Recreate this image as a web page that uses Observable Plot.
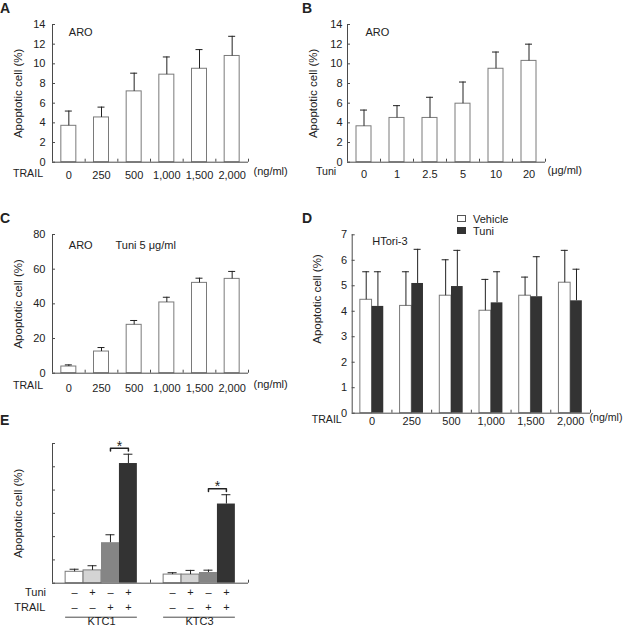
<!DOCTYPE html>
<html>
<head>
<meta charset="utf-8">
<script src="https://cdn.jsdelivr.net/npm/d3@7"></script>
<script src="https://cdn.jsdelivr.net/npm/@observablehq/plot@0.6"></script>
<style>
  body { margin: 0; background: #fff; }
  #fig { position: relative; width: 623px; height: 631px; overflow: hidden;
         font-family: "Liberation Sans", Arial, Helvetica, sans-serif; color: #222; background: #fff; }
  .panel { position: absolute; }
  .letter { position: absolute; font-weight: bold; font-size: 14px; line-height: 14px; }
  .leg { position: absolute; font-size: 11px; line-height: 12px; z-index: 5; }
  .sw { position: absolute; width: 9px; height: 7px; box-sizing: border-box; z-index: 5; }
</style>
</head>
<body>
<div id="fig">
  <div class="letter" style="left:0px;top:1px">A</div>
  <div class="letter" style="left:302px;top:1px">B</div>
  <div class="letter" style="left:0px;top:211px">C</div>
  <div class="letter" style="left:302px;top:211px">D</div>
  <div class="letter" style="left:0px;top:413px">E</div>
  <div class="sw" style="left:457px;top:215px;background:#fff;border:1px solid #555"></div>
  <div class="leg" style="left:473px;top:213px">Vehicle</div>
  <div class="sw" style="left:457px;top:227px;background:#333;border:1px solid #333"></div>
  <div class="leg" style="left:473px;top:225px">Tuni</div>
</div>
<script>
// ---------- data ----------
const trailDoses = ["0", "250", "500", "1,000", "1,500", "2,000"];
const tuniDoses = ["0", "1", "2.5", "5", "10", "20"];

const aroTrail = [3.7, 4.55, 7.2, 8.9, 9.5, 10.8];
const aroTrailErr = [1.5, 1.05, 1.85, 1.8, 1.95, 2.0];

const aroTuni = [3.65, 4.5, 4.5, 5.95, 9.5, 10.3];
const aroTuniErr = [1.65, 1.25, 2.1, 2.2, 1.7, 1.7];

const aroCombo = [3.85, 12.5, 27.9, 40.8, 52.1, 54.4];
const aroComboErr = [0.95, 2.3, 2.5, 3.0, 2.7, 4.3];

const htoriVehicle = [4.45, 4.21, 4.61, 4.02, 4.61, 5.12];
const htoriVehicleErr = [1.1, 1.34, 1.41, 1.23, 0.73, 1.27];
const htoriTuni = [4.19, 5.09, 4.97, 4.33, 4.57, 4.41];
const htoriTuniErr = [1.36, 1.34, 1.42, 1.22, 1.57, 1.24];

const ktcLines = ["KTC1", "KTC3"];
const ktcTuni = ["–", "+", "–", "+"];
const ktcTrail = ["–", "–", "+", "+"];
const ktc1Vals = [0.49, 0.55, 1.74, 5.14];
const ktc1Err = [0.11, 0.2, 0.34, 0.4];
const ktc3Vals = [0.37, 0.37, 0.46, 3.4];
const ktc3Err = [0.08, 0.18, 0.1, 0.4];

// ---------- styling ----------
const INK = "#222", AXIS = "#4a4a4a", EDGE = "#7a7a7a";
const FONT = "'Liberation Sans', Arial, Helvetica, sans-serif";
const STYLE = {fontFamily: FONT, fontSize: "11px", color: INK, background: "transparent", overflow: "visible"};
const YLABEL = "Apoptotic cell (%)";
const fig = document.getElementById("fig");

function place(svg, left, top) {
  const d = document.createElement("div");
  d.className = "panel";
  d.style.left = left + "px";
  d.style.top = top + "px";
  d.appendChild(svg);
  fig.appendChild(d);
}

function yLabel(dx, dy) {
  return Plot.text([YLABEL], {frameAnchor: "left", rotate: -90, dx, dy, textAnchor: "middle", lineAnchor: "middle", fontSize: 11.5, fill: INK});
}

function simplePanel(c) {
  const fw = c.W - c.ml - c.mr, fh = c.H - c.mt - c.mb, bw = fw / c.cats.length, barW = 15;
  const rows = c.cats.map((k, i) => ({k, v: c.vals[i], top: c.vals[i] + c.errs[i]}));
  const yTicks = d3.range(0, c.yMax + c.yStep / 2, c.yStep);
  const notes = c.notes.map(n => Plot.text([n.text], {frameAnchor: "top-left", dx: n.dx, dy: n.dy, textAnchor: "start", fill: INK}));
  return Plot.plot({
    width: c.W, height: c.H, marginLeft: c.ml, marginRight: c.mr, marginTop: c.mt, marginBottom: c.mb,
    style: STYLE,
    x: {type: "band", domain: c.cats, padding: 0, round: false},
    y: {domain: [0, c.yMax]},
    marks: [
      Plot.barY(rows, {x: "k", y: "v", fill: "white", stroke: EDGE, insetLeft: (bw - barW) / 2, insetRight: (bw - barW) / 2}),
      Plot.ruleX(rows, {x: "k", y1: "v", y2: "top", stroke: INK}),
      Plot.tickY(rows, {x: "k", y: "top", stroke: INK, insetLeft: bw / 2 - 3.5, insetRight: bw / 2 - 3.5}),
      Plot.ruleY([0], {stroke: AXIS}),
      Plot.ruleX([c.cats[0]], {dx: -bw / 2, stroke: AXIS}),
      Plot.tickY(yTicks, {stroke: AXIS, insetRight: fw - 3}),
      Plot.tickX(c.cats, {dx: bw / 2, stroke: AXIS, insetTop: fh - 3}),
      Plot.axisY({ticks: yTicks, tickFormat: d => String(d), tickSize: 0, tickPadding: c.ytPad, label: null, fill: INK}),
      Plot.axisX({tickSize: 0, tickPadding: c.xtPad, label: null, fill: INK}),
      Plot.text([c.lead], {frameAnchor: "bottom-left", dx: c.leadDx, dy: c.xtPad + 5.5, textAnchor: "start", fontSize: 10.6, fill: INK}),
      Plot.text([c.unit], {frameAnchor: "bottom-right", dx: c.unitDx, dy: c.xtPad + 4, textAnchor: "start", fill: INK}),
      yLabel(-34, c.labelDy || 0),
      ...notes
    ]
  });
}

// Panel A
place(simplePanel({
  cats: trailDoses, vals: aroTrail, errs: aroTrailErr, yMax: 14, yStep: 2,
  W: 310, H: 200, ml: 52, mr: 62, mt: 24, mb: 38.3, ytPad: 7, xtPad: 8.8,
  lead: "TRAIL", leadDx: -39.5, unit: "(ng/ml)", unitDx: 5,
  notes: [{text: "ARO", dx: 16.3, dy: 4}]
}), 0, 0);

// Panel B
place(simplePanel({
  cats: tuniDoses, vals: aroTuni, errs: aroTuniErr, yMax: 14, yStep: 2,
  W: 313, H: 200, ml: 37, mr: 78, mt: 24, mb: 38.3, ytPad: 5, xtPad: 7.6,
  lead: "Tuni", leadDx: -31.5, unit: "(μg/ml)", unitDx: 2,
  notes: [{text: "ARO", dx: 18, dy: 4}]
}), 310, 0);

// Panel C
place(simplePanel({
  cats: trailDoses, vals: aroCombo, errs: aroComboErr, yMax: 80, yStep: 20,
  W: 310, H: 210, ml: 52, mr: 62, mt: 34, mb: 37.3, ytPad: 7, xtPad: 10.5,
  lead: "TRAIL", leadDx: -39.5, unit: "(ng/ml)", unitDx: 5,
  notes: [{text: "ARO", dx: 16.3, dy: 7}, {text: "Tuni 5 μg/ml", dx: 63, dy: 7}]
}), 0, 200);

// Panel D
(function () {
  const W = 313, H = 231, ml = 41.7, mr = 33, mt = 34.3, mb = 18.3;
  const fw = W - ml - mr, fh = H - mt - mb, bw = fw / trailDoses.length, barW = 11.7;
  const rows = trailDoses.map((k, i) => ({
    k, v: htoriVehicle[i], vt: htoriVehicle[i] + htoriVehicleErr[i],
    t: htoriTuni[i], tt: htoriTuni[i] + htoriTuniErr[i]
  }));
  const yTicks = d3.range(0, 8);
  const xtPad = 3.8;
  place(Plot.plot({
    width: W, height: H, marginLeft: ml, marginRight: mr, marginTop: mt, marginBottom: mb,
    style: STYLE,
    x: {type: "band", domain: trailDoses, padding: 0, round: false},
    y: {domain: [0, 7]},
    marks: [
      Plot.barY(rows, {x: "k", y: "v", fill: "white", stroke: EDGE, insetLeft: bw / 2 - barW, insetRight: bw / 2}),
      Plot.barY(rows, {x: "k", y: "t", fill: "#333", insetLeft: bw / 2, insetRight: bw / 2 - barW}),
      Plot.ruleX(rows, {x: "k", y1: "v", y2: "vt", dx: -barW / 2, stroke: INK}),
      Plot.tickY(rows, {x: "k", y: "vt", dx: -barW / 2, stroke: INK, insetLeft: bw / 2 - 3.5, insetRight: bw / 2 - 3.5}),
      Plot.ruleX(rows, {x: "k", y1: "t", y2: "tt", dx: barW / 2, stroke: INK}),
      Plot.tickY(rows, {x: "k", y: "tt", dx: barW / 2, stroke: INK, insetLeft: bw / 2 - 3.5, insetRight: bw / 2 - 3.5}),
      Plot.ruleY([0], {stroke: AXIS}),
      Plot.ruleX([trailDoses[0]], {dx: -bw / 2, stroke: AXIS}),
      Plot.tickY(yTicks, {stroke: AXIS, insetRight: fw - 3}),
      Plot.tickX(trailDoses, {dx: bw / 2, stroke: AXIS, insetTop: fh - 3}),
      Plot.axisY({ticks: yTicks, tickFormat: d => String(d), tickSize: 0, tickPadding: 5, label: null, fill: INK}),
      Plot.axisX({tickSize: 0, tickPadding: xtPad, label: null, fill: INK}),
      Plot.text(["TRAIL"], {frameAnchor: "bottom-left", dx: -40.5, dy: xtPad + 5.5, textAnchor: "start", fontSize: 10.6, fill: INK}),
      Plot.text(["(ng/ml)"], {frameAnchor: "bottom-right", dx: -1, dy: xtPad + 4, textAnchor: "start", fontSize: 10.6, fill: INK}),
      yLabel(-34.7, -25),
      Plot.text(["HTori-3"], {frameAnchor: "top-left", dx: 20, dy: 2, textAnchor: "start", fill: INK})
    ]
  }), 310, 200);
})();

// Panel E
(function () {
  const W = 310, H = 221, ml = 52, mr = 62, mt = 33, mb = 48.3;
  const fw = W - ml - mr, fh = H - mt - mb;
  const w = 0.183;         // bar width in group units
  const cap = 0.046;       // error cap half-width in group units
  const bars = [];
  ktcLines.forEach((g, gi) => {
    const vals = gi ? ktc3Vals : ktc1Vals, errs = gi ? ktc3Err : ktc1Err;
    vals.forEach((v, j) => bars.push({g, gi, j, v, top: v + errs[j], tuni: ktcTuni[j], trail: ktcTrail[j]}));
  });
  const x1 = d => d.gi + 0.5 + (d.j - 2) * w;
  const xc = d => x1(d) + w / 2;
  const sig = ktcLines.map((g, gi) => {
    const b = bars.filter(d => d.gi === gi);
    return {gi, yb: Math.max(b[2].top, b[3].top), xa: xc(b[2]), xb: xc(b[3])};
  });
  const bracket = sig.flatMap(s => [
    {gi: s.gi, x: s.xa, y: s.yb - 0.12}, {gi: s.gi, x: s.xa, y: s.yb},
    {gi: s.gi, x: s.xb, y: s.yb}, {gi: s.gi, x: s.xb, y: s.yb - 0.12}
  ]);
  const yTicks = d3.range(0, 7);
  place(Plot.plot({
    width: W, height: H, marginLeft: ml, marginRight: mr, marginTop: mt, marginBottom: mb,
    style: STYLE,
    x: {domain: [0, 2], axis: null},
    y: {domain: [0, 6], axis: null},
    color: {type: "ordinal", domain: [0, 1, 2, 3], range: ["#ffffff", "#d4d4d4", "#858585", "#333333"]},
    marks: [
      Plot.rectY(bars.filter(d => d.j < 2), {x1, x2: d => x1(d) + w, y: "v", fill: "j", stroke: EDGE}),
      Plot.rectY(bars.filter(d => d.j >= 2), {x1, x2: d => x1(d) + w, y: "v", fill: "j"}),
      Plot.ruleX(bars, {x: xc, y1: "v", y2: "top", stroke: INK}),
      Plot.ruleY(bars, {y: "top", x1: d => xc(d) - cap, x2: d => xc(d) + cap, stroke: INK}),
      Plot.line(bracket, {x: "x", y: "y", z: "gi", stroke: INK, dy: -6}),
      Plot.text(sig, {x: s => (s.xa + s.xb) / 2, y: "yb", text: () => "*", dy: -8, fontSize: 14, fill: INK}),
      Plot.ruleY([0], {stroke: AXIS}),
      Plot.ruleX([0], {stroke: AXIS}),
      Plot.tickY(yTicks, {stroke: AXIS, insetRight: fw - 3}),
      Plot.tickX([1, 2], {stroke: AXIS, insetTop: fh - 3}),
      Plot.text(bars, {x: xc, frameAnchor: "bottom", dy: 12.3, text: "tuni", fill: INK}),
      Plot.text(bars, {x: xc, frameAnchor: "bottom", dy: 27.3, text: "trail", fill: INK}),
      Plot.text(["Tuni"], {frameAnchor: "bottom-left", dx: -6.5, dy: 12.3, textAnchor: "end", fill: INK}),
      Plot.text(["TRAIL"], {frameAnchor: "bottom-left", dx: -7, dy: 27.3, textAnchor: "end", fill: INK}),
      Plot.ruleY(ktcLines, {y: () => 0, x1: (d, i) => i + 0.5 - 2 * w, x2: (d, i) => i + 0.5 + 2 * w, dy: 34, stroke: AXIS}),
      Plot.text(ktcLines, {x: (d, i) => i + 0.5, frameAnchor: "bottom", dy: 41.5, fill: INK}),
      yLabel(-34, 0)
    ]
  }), 0, 410);
})();
</script>
</body>
</html>
